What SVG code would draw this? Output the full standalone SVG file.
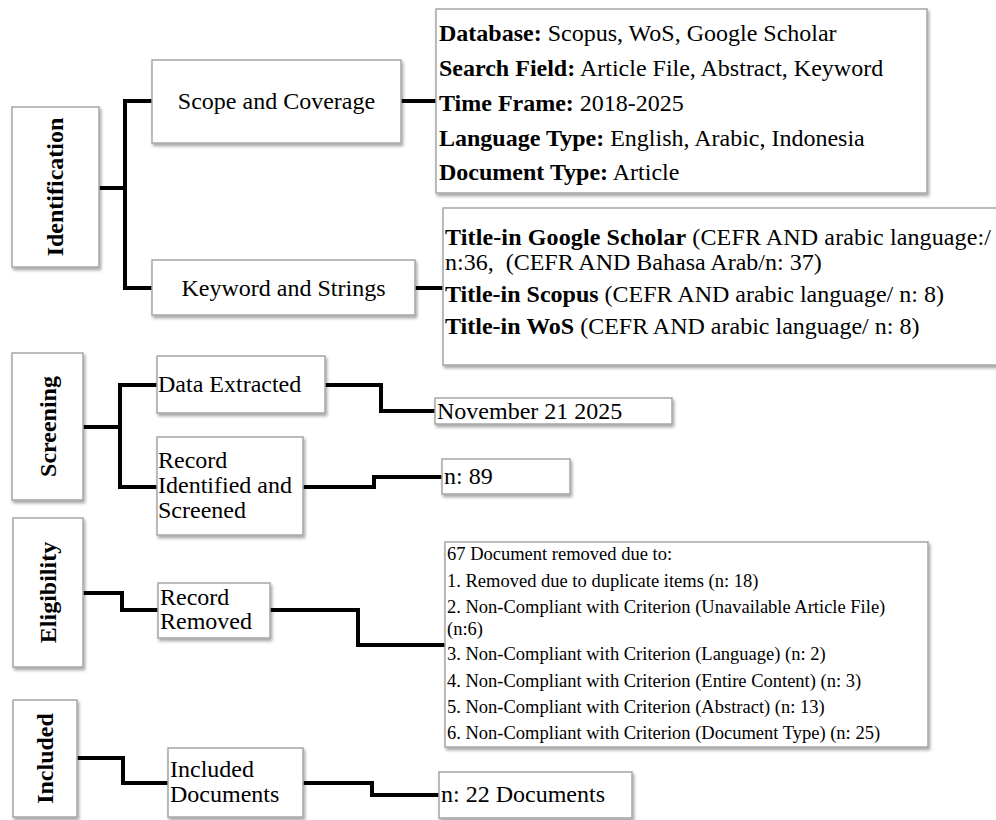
<svg xmlns="http://www.w3.org/2000/svg" width="996" height="820" viewBox="0 0 996 820">
<style>
  text { font-family: "Liberation Serif", "Times New Roman", serif; fill: #000; }
  .t { font-size: 24px; }
  .s { font-size: 18.5px; }
  .b { font-weight: bold; }
  .c { text-anchor: middle; }
  .box { fill: #fff; stroke: #a6a6a6; stroke-width: 1.5; filter: url(#sh); }
  .con { fill: none; stroke: #000; stroke-width: 4; stroke-linejoin: miter; stroke-linecap: butt; }
</style>
<defs>
  <filter id="sh" x="-10%" y="-10%" width="125%" height="130%">
    <feDropShadow dx="1.5" dy="2.5" stdDeviation="1.8" flood-color="#000" flood-opacity="0.35"/>
  </filter>
</defs>
<rect width="996" height="820" fill="#fff"/>

<g id="connectors">
  <path class="con" d="M99,188 H125 M152,101 H125 V288 H152"/>
  <path class="con" d="M401,101 H436"/>
  <path class="con" d="M415,288 H443"/>
  <path class="con" d="M83,427 H120 M157,385 H120 V487 H157"/>
  <path class="con" d="M325,385 H381 V411 H435"/>
  <path class="con" d="M303,487 H374 V477 H442"/>
  <path class="con" d="M83,593 H122 V610 H158"/>
  <path class="con" d="M270,610 H358 V645 H445"/>
  <path class="con" d="M77,758 H123 V783 H168"/>
  <path class="con" d="M303,783 H372 V795 H440"/>
</g>

<g id="identification">
  <rect class="box" x="12" y="107" width="87" height="160"/>
  <text class="t b c" transform="translate(63,187) rotate(-90)">Identification</text>
</g>
<g id="scope">
  <rect class="box" x="152" y="60" width="249" height="83"/>
  <text class="t c" x="276.5" y="109">Scope and Coverage</text>
</g>
<g id="keyword">
  <rect class="box" x="152" y="260" width="263" height="55"/>
  <text class="t c" x="283.5" y="296">Keyword and Strings</text>
</g>
<g id="scope-details">
  <rect class="box" x="436" y="9" width="491" height="184"/>
  <text class="t" x="439" y="41"><tspan class="b">Database:</tspan> Scopus, WoS, Google Scholar</text>
  <text class="t" x="439" y="76"><tspan class="b">Search Field:</tspan> Article File, Abstract, Keyword</text>
  <text class="t" x="439" y="111"><tspan class="b">Time Frame:</tspan> 2018-2025</text>
  <text class="t" x="439" y="146"><tspan class="b">Language Type:</tspan> English, Arabic, Indonesia</text>
  <text class="t" x="439" y="180"><tspan class="b">Document Type:</tspan> Article</text>
</g>
<g id="keyword-details">
  <rect class="box" x="443" y="208" width="570" height="157"/>
  <text class="t" x="445" y="245" textLength="546"><tspan class="b">Title-in Google Scholar</tspan> (CEFR AND arabic language:/</text>
  <text class="t" x="445" y="270" xml:space="preserve">n:36,  (CEFR AND Bahasa Arab/n: 37)</text>
  <text class="t" x="445" y="302"><tspan class="b">Title-in Scopus</tspan> (CEFR AND arabic language/ n: 8)</text>
  <text class="t" x="445" y="334"><tspan class="b">Title-in WoS</tspan> (CEFR AND arabic language/ n: 8)</text>
</g>

<g id="screening">
  <rect class="box" x="12" y="353" width="71" height="147"/>
  <text class="t b c" transform="translate(56,426.5) rotate(-90)">Screening</text>
</g>
<g id="data-extracted">
  <rect class="box" x="157" y="356" width="168" height="57"/>
  <text class="t" x="158" y="392">Data Extracted</text>
</g>
<g id="november">
  <rect class="box" x="435" y="398" width="237" height="26"/>
  <text class="t" x="437" y="419">November 21 2025</text>
</g>
<g id="record-identified">
  <rect class="box" x="157" y="437" width="146" height="98"/>
  <text class="t" x="158" y="468">Record</text>
  <text class="t" x="158" y="493">Identified and</text>
  <text class="t" x="158" y="518">Screened</text>
</g>
<g id="n89">
  <rect class="box" x="442" y="459" width="128" height="35"/>
  <text class="t" x="444" y="484">n: 89</text>
</g>

<g id="eligibility">
  <rect class="box" x="13" y="518" width="70" height="149"/>
  <text class="t b c" transform="translate(56,592.5) rotate(-90)">Eligibility</text>
</g>
<g id="record-removed">
  <rect class="box" x="158" y="583" width="112" height="55"/>
  <text class="t" x="160" y="605">Record</text>
  <text class="t" x="160" y="629">Removed</text>
</g>
<g id="removed-details">
  <rect class="box" x="445" y="542" width="483" height="205"/>
  <text class="s" x="447" y="560">67 Document removed due to:</text>
  <text class="s" x="447" y="587">1. Removed due to duplicate items (n: 18)</text>
  <text class="s" x="447" y="613">2. Non-Compliant with Criterion (Unavailable Article File)</text>
  <text class="s" x="447" y="635">(n:6)</text>
  <text class="s" x="447" y="660">3. Non-Compliant with Criterion (Language) (n: 2)</text>
  <text class="s" x="447" y="687">4. Non-Compliant with Criterion (Entire Content) (n: 3)</text>
  <text class="s" x="447" y="713">5. Non-Compliant with Criterion (Abstract) (n: 13)</text>
  <text class="s" x="447" y="739">6. Non-Compliant with Criterion (Document Type) (n: 25)</text>
</g>

<g id="included">
  <rect class="box" x="13" y="700" width="64" height="117"/>
  <text class="t b c" transform="translate(53,758.5) rotate(-90)">Included</text>
</g>
<g id="included-documents">
  <rect class="box" x="168" y="748" width="135" height="69"/>
  <text class="t" x="170" y="777">Included</text>
  <text class="t" x="170" y="802">Documents</text>
</g>
<g id="n22">
  <rect class="box" x="439" y="772" width="193" height="46"/>
  <text class="t" x="441" y="802">n: 22 Documents</text>
</g>
</svg>
